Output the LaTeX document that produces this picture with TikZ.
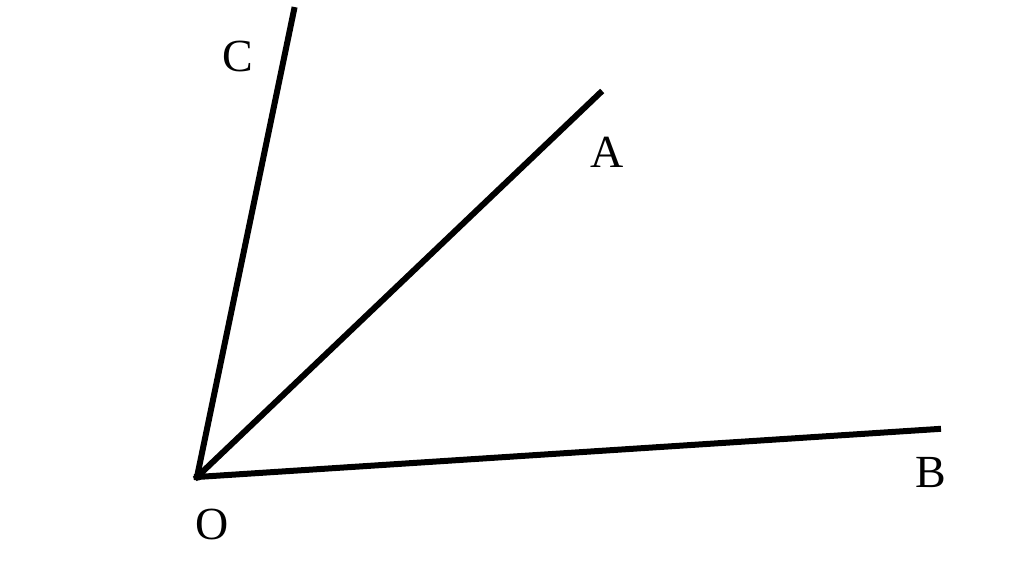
\documentclass[tikz,border=0pt]{standalone}
\usepackage{fontspec}
\setmainfont{Liberation Serif}
\begin{document}
\begin{tikzpicture}[x=1pt,y=-1pt,
  ray/.style={line width=6pt,line cap=rect},
  lbl/.style={font=\fontsize{46}{46}\selectfont,inner sep=0pt}]
\useasboundingbox (0,0) rectangle (1024,569);
\coordinate (O) at (197,477);
\coordinate (C) at (294,10);
\coordinate (A) at (600,93);
\coordinate (B) at (938,429);
\draw[ray] (O) -- (C);
\draw[ray] (O) -- (A);
\draw[ray] (O) -- (B);
\node[lbl] (lC) at (238,56) {C};
\node[lbl] (lA) at (607,152) {A};
\node[lbl] (lB) at (931,473) {B};
\node[lbl] (lO) at (212,524) {O};
\end{tikzpicture}
\end{document}
